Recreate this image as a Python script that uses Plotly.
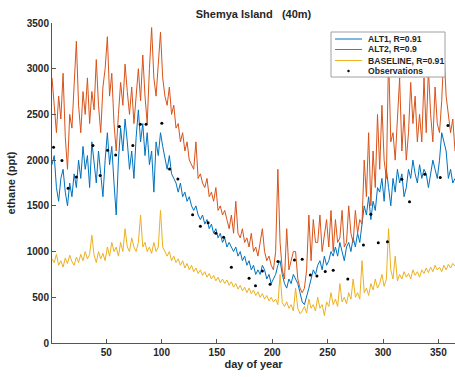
import plotly.graph_objects as go

# ---------------- data ----------------
days = list(range(1, 366, 2))  # model output sampled every 2 days

alt1 = [
    1950, 2050, 1700, 1550, 1800, 1900, 1650, 1500, 1750, 1600,
    1850, 1700, 2000, 1800, 2150, 1900, 2050, 1700, 2200, 1950,
    1750, 2100, 1850, 1600, 2000, 2300, 1950, 2150, 1750, 1400,
    2000, 2350, 2100, 2450, 2200, 1900, 2100, 1800, 2250, 2550,
    2200, 2400, 2050, 2300, 1950, 2100, 1650, 2200, 2050, 2300,
    2150, 2000, 1900, 2050, 1850, 1800, 1750, 1650, 1750, 1600,
    1650, 1550, 1600, 1500, 1450, 1500, 1400, 1350, 1400, 1300,
    1350, 1250, 1300, 1200, 1250, 1150, 1200, 1100, 1150, 1050,
    1100, 1050, 1000, 1050, 950, 1000, 900, 950, 850, 900,
    800, 850, 750, 800, 750, 850, 800, 700, 750, 650,
    700, 750, 850, 900, 750, 650, 600, 700, 650, 750,
    700, 650, 550, 450, 420, 500, 600, 700, 800, 750,
    850, 900, 800, 950, 850, 900, 1000, 950, 1050, 950,
    1100, 1000, 900, 1050, 1100, 1000, 1150, 1050, 1200, 1100,
    1300, 1500, 1400, 1600, 1350, 1550, 1450, 1700, 1650, 1800,
    1550, 1900, 1700, 1500, 1800, 1650, 1900, 1750, 1850, 1600,
    1700, 1900, 1800, 2000, 1850, 1750, 1950, 1800, 1900, 1850,
    1700, 1850, 2000, 1900, 1800, 2000, 2300, 2200, 2100, 1800,
    1900, 1750, 1800,
]

alt2 = [
    2900, 2600, 2300, 2700, 2450, 2950, 2250, 1900, 2500, 2350,
    2800, 3300, 2600, 2300, 2750, 2500, 2900, 2400, 2750, 2550,
    3100, 2600, 2300, 2800, 3000, 3350, 2700, 2950, 2400, 2100,
    2500, 2850, 2600, 3050, 2750, 2500, 2800, 2400, 2700, 3000,
    2650, 3150, 2700, 2400, 3000, 3450, 2900, 2700, 3050, 3400,
    2900, 2700, 2600, 2800, 2500, 2600, 2350, 2400, 2200, 2300,
    2100, 2200, 2000, 1950, 1900, 2200, 1800, 1850, 1750, 1700,
    1800, 1600, 1650, 1550, 1700, 1450, 1500, 1400, 1450, 1350,
    1250, 1400, 1200, 1550, 1200, 1150, 1250, 1100, 1150, 1050,
    1200, 1000, 1050, 950, 1100, 1250, 1000, 900, 950, 850,
    800, 1000, 1900, 1100, 800, 700, 1250, 800, 900, 1000,
    1000, 700, 600, 550, 600, 800, 1400, 900, 1350, 1100,
    1100, 1400, 1000, 1150, 1350, 1050, 1450, 1000, 1350, 1100,
    1150, 1450, 1050, 1100, 1500, 1200, 1100, 1450, 1200, 1350,
    1300, 2000, 1600, 2300, 1500, 2100, 1700, 2500, 1900, 2600,
    2000, 1800, 3150, 2200, 2300, 2000, 2400, 2900, 2100, 2500,
    2000, 2300, 2850, 2400, 2700, 2200, 2500, 2200, 2900, 2300,
    3000, 2500, 2200, 2800, 2400, 2300, 2650, 3200, 2700, 2500,
    2300, 2450, 2100,
]

baseline = [
    920, 880, 970, 850, 900, 830, 930, 870, 960, 890,
    850, 940, 880, 970, 900, 1000, 920, 970, 1180, 960,
    880, 1000, 920, 980, 900, 1050, 950, 1100, 1000, 1050,
    950, 1100, 1000, 1250, 1050, 1000, 1150, 1050, 1000, 1100,
    1400, 1050, 1100, 1000, 1050, 980, 1100, 1000, 1050, 1450,
    1050, 1000, 950, 1000, 900, 950, 880, 920, 850, 900,
    820, 870, 800, 850, 780, 820, 760, 800, 740, 780,
    720, 760, 700, 740, 680, 720, 660, 700, 650, 690,
    630, 670, 610, 650, 590, 630, 570, 610, 550, 600,
    540, 580, 520, 560, 500, 540, 480, 520, 460, 500,
    450, 480, 420, 750, 440, 400, 450, 380, 420, 350,
    600, 380, 320, 350, 400, 330, 480, 380, 420, 350,
    500, 380, 420, 300, 450, 400, 550, 420, 480, 400,
    650, 450, 500, 430, 550, 480, 700, 500, 550, 480,
    900, 550, 600, 520, 650, 580, 700, 600, 650, 750,
    620, 700, 1250, 800, 700, 950, 680, 750, 700, 780,
    720, 760, 700, 800, 740, 780, 720, 800, 760, 820,
    770, 830, 780, 850, 800, 830, 780, 850, 800, 860,
    820, 870, 840,
]

obs_day = [2.4, 10, 15.6, 23, 38, 44.5, 51.2, 58.5, 61.8, 74, 80.8, 86, 100.2,
           107.2, 114.7, 128, 135, 142, 149, 156, 163, 179, 184.8, 191, 198,
           205, 220, 227, 234.3, 240.3, 247.8, 255, 268.2, 282.3, 289, 295.7,
           304, 317, 323.9, 337.7, 351.7, 358.6]
obs_val = [2140, 1995, 1692, 1816, 2159, 1831, 2108, 2057, 2367, 2159, 2393, 2393,
           2404, 1904, 1794, 1402, 1276, 1316, 1200, 1156, 828, 708, 626, 788,
           642, 892, 908, 916, 744, 733, 782, 795, 700, 1072, 1408, 1096, 1108,
           1791, 1546, 1846, 1809, 2380]

x_ticks = [50, 100, 150, 200, 250, 300, 350]
y_ticks = [0, 500, 1000, 1500, 2000, 2500, 3000, 3500]

names = ["ALT1, R=0.91", "ALT2, R=0.9", "BASELINE, R=0.91", "Observations"]
colors = ["#0072BD", "#D95319", "#EDB120", "#000000"]

FONT = "Liberation Sans, Arial, Helvetica, sans-serif"
TXT = "#262626"
AX = "#555555"

fig = go.Figure()
for series, name, col in zip([alt1, alt2, baseline], names[:3], colors[:3]):
    fig.add_trace(go.Scatter(x=days, y=series, mode="lines", name=name,
                             line=dict(color=col, width=1), showlegend=False))
fig.add_trace(go.Scatter(x=obs_day, y=obs_val, mode="markers", name=names[3],
                         marker=dict(color="black", size=3), showlegend=False))

fig.update_layout(
    width=455, height=377,
    margin=dict(l=52, r=0, t=23, b=34),
    paper_bgcolor="white", plot_bgcolor="white",
    showlegend=False,
    font=dict(family=FONT, size=10, color=TXT, weight="bold"),
    title=dict(text="Shemya Island\u00a0\u00a0\u00a0(40m)", x=0.5, xref="paper",
               xanchor="center", y=1 - 14 / 377, yref="container", yanchor="middle",
               font=dict(size=11, family=FONT, color=TXT, weight="bold")),
    xaxis=dict(range=[1, 365], tickvals=x_ticks, ticks="inside", ticklen=4,
               tickcolor=AX, showline=True, linecolor=AX, linewidth=1,
               showgrid=False, zeroline=False, mirror=False,
               title=dict(text="day of year", standoff=3,
                          font=dict(size=11, family=FONT, color=TXT, weight="bold"))),
    yaxis=dict(range=[0, 3500], tickvals=y_ticks, ticks="inside", ticklen=4,
               tickcolor=AX, showline=True, linecolor=AX, linewidth=1,
               showgrid=False, zeroline=False, mirror=False,
               title=dict(text="ethane (ppt)", standoff=8,
                          font=dict(size=11, family=FONT, color=TXT, weight="bold"))),
)

# ---------------- legend box (top-right) ----------------
PX_L, PX_R, PX_T, PX_B = 52, 455, 23, 343
def px(xp):
    return (xp - PX_L) / (PX_R - PX_L)
def py(yp):
    return (PX_B - yp) / (PX_B - PX_T)

shapes = [dict(type="rect", xref="paper", yref="paper", layer="above",
               x0=px(331), x1=px(445), y0=py(77), y1=py(32),
               line=dict(color="#a0a0a0", width=1), fillcolor="white")]
rows = [39, 49.5, 60.5, 71]
for i, (name, col) in enumerate(zip(names, colors)):
    yr = py(rows[i])
    if i < 3:
        shapes.append(dict(type="line", xref="paper", yref="paper", layer="above",
                           x0=px(335), x1=px(362), y0=yr, y1=yr,
                           line=dict(color=col, width=1)))
    else:
        shapes.append(dict(type="circle", xref="paper", yref="paper", layer="above",
                           x0=px(347.5), x1=px(349.5), y0=py(rows[i] + 1), y1=py(rows[i] - 1),
                           line=dict(color="black", width=0.5), fillcolor="black"))
    fig.add_annotation(text=name, xref="paper", yref="paper", x=px(366), y=yr,
                       xanchor="left", yanchor="middle", showarrow=False,
                       font=dict(size=8.6, family=FONT, color=TXT, weight="bold"))
fig.update_layout(shapes=shapes)

fig.write_html("out.html")
